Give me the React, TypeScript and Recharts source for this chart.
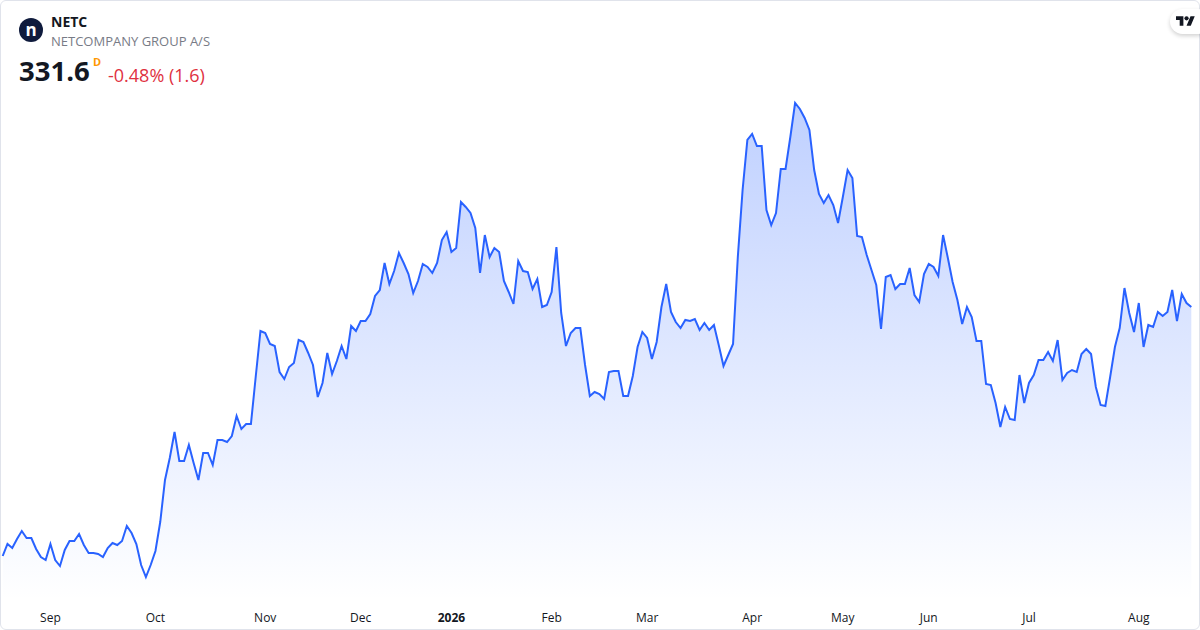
import React from "react";
import { AreaChart, Area, XAxis, YAxis } from "recharts";

// daily closes, NETC (DKK)
const closes = [
  232.0, 236.8, 235.2, 238.8, 242.0, 239.2, 239.2, 234.8, 231.6, 230.4,
  236.8, 230.4, 228.0, 234.4, 238.0, 238.0, 240.8, 236.4, 233.2, 233.2,
  232.8, 231.6, 235.2, 237.2, 236.4, 238.0, 244.0, 241.2, 236.8, 228.4,
  223.6, 228.4, 234.0, 245.6, 262.4, 271.2, 281.6, 270.0, 270.0, 276.4,
  269.2, 262.4, 273.2, 273.2, 268.4, 278.4, 278.4, 277.6, 280.0, 288.0,
  282.8, 284.8, 284.8, 303.6, 322.0, 321.2, 316.8, 316.0, 305.6, 302.8,
  307.6, 309.2, 318.4, 317.6, 313.2, 308.4, 295.6, 301.2, 313.2, 304.8,
  310.0, 316.0, 310.8, 324.0, 322.0, 326.0, 326.0, 328.8, 336.0, 338.4,
  349.2, 340.8, 346.0, 353.2, 349.2, 344.8, 337.2, 342.0, 348.8, 347.6,
  345.2, 349.2, 358.4, 361.6, 353.6, 355.2, 373.6, 371.6, 369.2, 363.2,
  345.2, 360.4, 351.6, 355.2, 353.6, 342.0, 337.6, 332.8, 350.0, 346.0,
  345.6, 338.8, 342.8, 331.6, 332.4, 337.6, 355.6, 329.2, 316.0, 321.2,
  323.2, 323.2, 308.4, 296.0, 297.6, 296.8, 294.8, 305.6, 306.0, 306.0,
  296.0, 296.0, 304.0, 315.6, 321.6, 319.2, 310.8, 317.6, 331.6, 340.8,
  329.6, 325.6, 323.2, 326.4, 326.0, 326.8, 322.4, 325.2, 322.4, 324.4,
  316.4, 308.0, 312.4, 316.8, 351.6, 378.4, 398.4, 400.8, 396.0, 396.0,
  370.4, 364.4, 369.2, 386.8, 386.8, 399.6, 413.2, 410.8, 407.2, 402.4,
  386.4, 376.8, 373.2, 376.4, 372.4, 365.2, 375.6, 386.4, 383.2, 360.0,
  359.6, 352.4, 346.4, 340.4, 322.8, 343.6, 344.4, 338.8, 340.8, 340.8,
  347.2, 336.4, 333.6, 344.8, 348.8, 347.6, 344.0, 360.4, 351.2, 341.6,
  334.4, 324.8, 331.6, 327.6, 318.0, 318.0, 300.8, 300.4, 293.2, 283.6,
  291.6, 286.8, 286.4, 304.4, 293.2, 301.2, 304.4, 310.4, 310.4, 313.6,
  310.0, 318.4, 302.4, 305.2, 306.4, 305.6, 312.8, 314.8, 312.8, 299.6,
  292.4, 292.0, 303.6, 315.6, 323.2, 339.2, 329.2, 321.6, 333.2, 315.6,
  324.4, 323.6, 329.6, 328.0, 329.6, 338.4, 326.0, 336.8, 333.2, 331.6,
];

// bar index of the first session of each month
const monthStarts = [10, 32, 55, 75, 94, 115, 135, 157, 176, 194, 215, 238];
const monthLabels = ["Sep", "Oct", "Nov", "Dec", "2026", "Feb", "Mar", "Apr", "May", "Jun", "Jul", "Aug"];

const chartData = closes.map((close, i) => ({ i, close }));

const FONT = '"Open Sans", Roboto, sans-serif';

const MonthTick = (props: any) => {
  const { x, y, payload } = props;
  const label = monthLabels[monthStarts.indexOf(payload.value)];
  const isYear = /^\d+$/.test(label);
  return (
    <text
      x={x}
      y={y}
      dy="0.71em"
      textAnchor="middle"
      fill="#131722"
      fontSize={12}
      fontFamily={FONT}
      fontWeight={isYear ? 700 : 400}
    >
      {label}
    </text>
  );
};

const Header: React.FC = () => (
  <svg width={260} height={95} style={{ position: "absolute", left: 0, top: 0 }}>
    <circle cx={31} cy={30} r={12} fill="#0f1b3d" />
    <text x={31} y={36} textAnchor="middle" fill="#fff" fontSize={17} fontWeight={700} fontFamily={FONT}>
      n
    </text>
    <text x={51} y={26.5} fill="#131722" fontSize={14} fontWeight={700} fontFamily={FONT}>
      NETC
    </text>
    <text x={51} y={45.5} fill="#787b86" fontSize={13} fontFamily={FONT}>
      NETCOMPANY GROUP A/S
    </text>
    <text x={19} y={80.5} fill="#131722" fontSize={27.5} fontWeight={700} fontFamily={FONT}>
      331.6
    </text>
    <text x={93} y={65.5} fill="#ff9800" fontSize={11} fontWeight={700} fontFamily={FONT}>
      D
    </text>
    <text x={108} y={81.5} fill="#e0313f" fontSize={18} fontFamily={FONT}>
      -0.48% (1.6)
    </text>
  </svg>
);

const TvBadge: React.FC = () => (
  <div
    style={{
      position: "absolute",
      left: 1170,
      top: 9,
      width: 40,
      height: 25,
      borderRadius: 13,
      background: "#fff",
      boxShadow: "0 2px 4px rgba(0,0,0,0.18)",
    }}
  >
    <svg width={19} height={15} viewBox="0 0 36 28" style={{ position: "absolute", left: 6, top: 5 }}>
      <path d="M14 22H7V11H0V4h14v18zM28 22h-8l7.5-18h8L28 22z" fill="#131722" />
      <circle cx={20} cy={8} r={4} fill="#131722" />
    </svg>
  </div>
);

export default function App() {
  return (
    <div
      style={{
        position: "fixed",
        left: 0,
        top: 0,
        width: 1200,
        height: 630,
        background: "#fff",
        overflow: "hidden",
        fontFamily: FONT,
      }}
    >
      <div
        style={{
          position: "absolute",
          inset: 0,
          border: "1px solid #e0e3eb",
          borderRadius: 6,
          boxSizing: "border-box",
        }}
      />
      <div style={{ position: "absolute", left: 0, top: 0 }}>
        <AreaChart
          width={1200}
          height={630}
          data={chartData}
          margin={{ top: 0, right: 8.7, bottom: 0, left: 2.7 }}
        >
          <defs>
            <linearGradient id="netcFill" x1="0" y1="0" x2="0" y2="1">
              <stop offset="0%" stopColor="#2962ff" stopOpacity={0.3} />
              <stop offset="100%" stopColor="#2962ff" stopOpacity={0} />
            </linearGradient>
          </defs>
          <XAxis
            dataKey="i"
            type="number"
            domain={[0, closes.length - 1]}
            ticks={monthStarts}
            tick={<MonthTick />}
            axisLine={false}
            tickLine={false}
            tickMargin={7}
            height={30}
            interval={0}
          />
          <YAxis hide domain={[214.4, 454.4]} allowDataOverflow />
          <Area
            type="linear"
            dataKey="close"
            stroke="#2962ff"
            strokeWidth={2}
            fill="url(#netcFill)"
            fillOpacity={1}
            dot={false}
            activeDot={false}
            isAnimationActive={false}
          />
        </AreaChart>
      </div>
      <Header />
      <TvBadge />
    </div>
  );
}
